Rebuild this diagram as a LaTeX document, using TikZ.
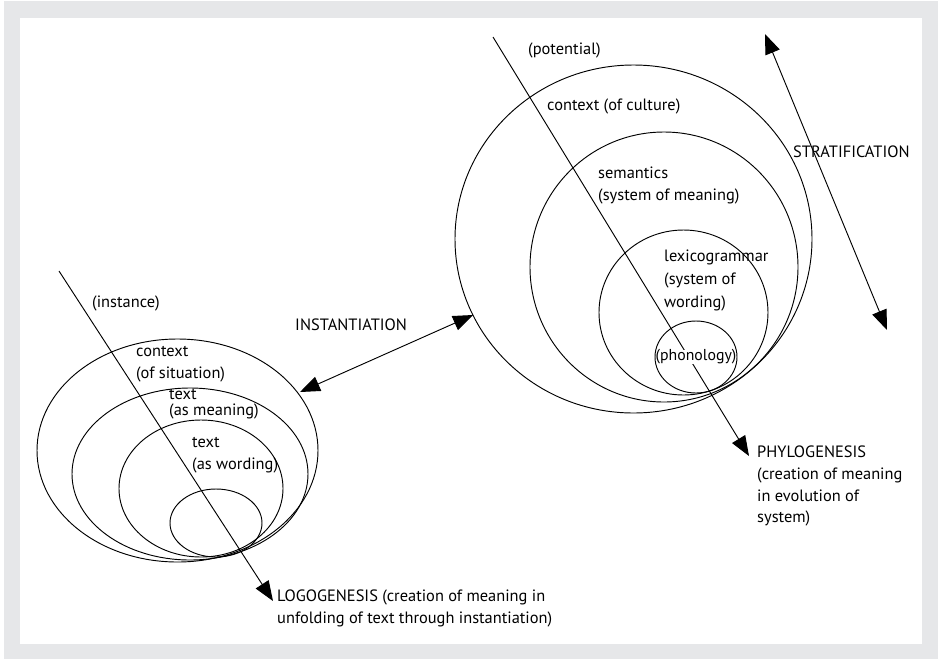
\documentclass[tikz,border=0pt]{standalone}
\usepackage{fontspec}
\setmainfont{PT Sans}
\usetikzlibrary{arrows.meta}

\definecolor{framegray}{HTML}{E6E7E9}

\tikzset{
	ring/.style={line width=0.8pt},
	flow/.style={line width=0.8pt, -{Triangle[length=17pt, width=13pt]}},
	twoway/.style={line width=0.8pt, {Triangle[length=17pt, width=13pt]}-{Triangle[length=17pt, width=13pt]}},
	lbl/.style={inner sep=0pt, align=left, font=\fontsize{14}{18.5}\selectfont},
}

\begin{document}
\begin{tikzpicture}[x=0.03cm, y=-0.03cm]
		% frame
		\fill[white] (0, 0) rectangle (938, 659);
		\fill[framegray] (4, 1) rectangle (938, 659);
		\fill[white] (20, 18) rectangle (922, 644);

		% instance side
		\draw[ring] (177.5, 450.5) ellipse [x radius=140.5, y radius=111.5];
		\draw[ring] (190, 474) ellipse [x radius=118, y radius=86];
		\draw[ring] (201, 488.5) ellipse [x radius=82, y radius=68.5];
		\draw[ring] (216, 523) ellipse [x radius=46, y radius=34];

		\coordinate (logo-start) at (59, 271);
		\coordinate (logo-end) at (273, 601);
		\draw[flow] (logo-start) -- (logo-end);

		\node[lbl, anchor=west] (instance) at (92, 303) {(instance)};
		\node[lbl, anchor=north west] (situation) at (136, 346) {context\\(of situation)};
		\node[lbl, anchor=north west] (meaning) at (169, 389) {text\\[-5pt](as meaning)};
		\node[lbl, anchor=north west] (wording) at (192, 437) {text\\(as wording)};
		\node[lbl, anchor=north west] (logogenesis) at (277, 590)
			{LOGOGENESIS (creation of meaning in\\unfolding of text through instantiation)};

		% instantiation
		\coordinate (inst-lo) at (300, 392);
		\coordinate (inst-hi) at (473, 315);
		\draw[twoway] (inst-lo) -- (inst-hi);
		\node[lbl, anchor=west] (instantiation) at (295, 325) {INSTANTIATION};

		% potential side
		\draw[ring] (633.5, 239) ellipse [x radius=178.5, y radius=174];
		\draw[ring] (664, 267) ellipse [x radius=134, y radius=135];
		\draw[ring] (683.5, 312.5) ellipse [x radius=84.5, y radius=82.5];

		\coordinate (phylo-start) at (493, 37);
		\coordinate (phylo-end) at (749, 456);
		\draw[flow] (phylo-start) -- (phylo-end);

		\node[lbl, fill=white, font=\fontsize{13.5}{17}\selectfont] (phonology) at (696, 357) {(phonology)};
		\draw[ring] (696, 357) ellipse [x radius=41, y radius=36];

		\node[lbl, anchor=west] (potential) at (528, 50) {(potential)};
		\node[lbl, anchor=west] (culture) at (547, 106) {context (of culture)};
		\node[lbl, anchor=north west] (semantics) at (598, 167) {semantics\\(system of meaning)};
		\node[lbl, anchor=north west] (lexgram) at (664, 250) {lexicogrammar\\[1pt](system of\\[1pt]wording)};
		\node[lbl, anchor=north west] (phylogenesis) at (757, 446)
			{PHYLOGENESIS\\(creation of meaning\\in evolution of\\system)};

		% stratification
		\coordinate (strat-hi) at (765, 34);
		\coordinate (strat-lo) at (887, 330);
		\draw[twoway] (strat-lo) -- (strat-hi);
		\node[lbl, anchor=west] (stratification) at (793, 152) {STRATIFICATION};
	\end{tikzpicture}
\end{document}
